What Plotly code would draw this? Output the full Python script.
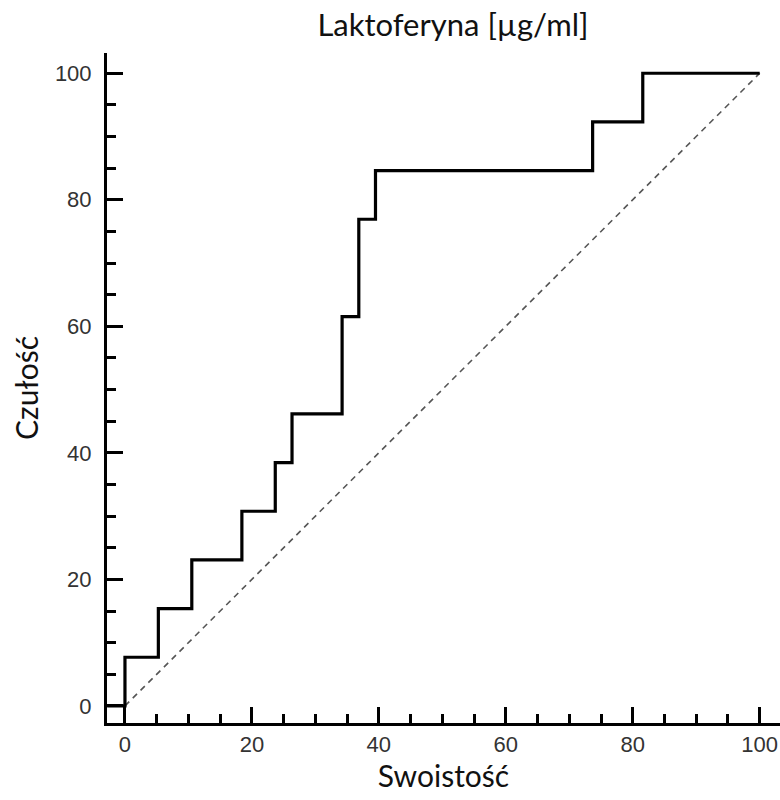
import plotly.graph_objects as go

# ROC curve data (100 - specificity, sensitivity), step-wise
fpr = [-2.8, 0, 5.26, 10.53, 18.42, 23.68, 26.32, 34.21, 36.84, 39.47, 73.68, 81.58, 100]
sens = [0, 7.69, 15.38, 23.08, 30.77, 38.46, 46.15, 61.54, 76.92, 84.62, 92.31, 100, 100]
diag_x = [0, 100]
diag_y = [0, 100]
tick_vals = [0, 20, 40, 60, 80, 100]

fig = go.Figure()
fig.add_trace(go.Scatter(x=diag_x, y=diag_y, mode="lines",
                         line=dict(color="#555555", width=1.6, dash="6px,5px"),
                         hoverinfo="skip", showlegend=False))
fig.add_trace(go.Scatter(x=fpr, y=sens, mode="lines", line_shape="hv",
                         line=dict(color="#000000", width=3.2), showlegend=False))

tickfont = dict(family="Liberation Sans Narrow, Arial Narrow, Liberation Sans, Arial", size=22, color="#333333")
titlefont = dict(family="Lato, Open Sans, sans-serif", size=30, color="#111111")

common = dict(
    showgrid=False, zeroline=False, showline=True, linecolor="#000000", linewidth=3,
    ticks="inside", ticklen=16, tickwidth=3, tickcolor="#000000",
    tickmode="array", tickvals=tick_vals, tickfont=tickfont, automargin=False,
    minor=dict(ticks="inside", dtick=5, tick0=0, ticklen=9, tickwidth=3, tickcolor="#000000", showgrid=False),
)

fig.update_xaxes(range=[-2.83, 103.2], title=dict(text="Swoistość", font=titlefont, standoff=6),
                 ticklabelstandoff=0, **common)
fig.update_yaxes(range=[-2.7, 103.2], title=dict(text="Czułość", font=titlefont, standoff=8),
                 ticklabelstandoff=8, **common)

fig.update_layout(
    width=780, height=800,
    margin=dict(l=107, r=0, t=53, b=77, autoexpand=False),
    plot_bgcolor="white", paper_bgcolor="white",
    title=dict(text="Laktoferyna [µg/ml]", font=dict(family="Lato, Open Sans, sans-serif", size=31, color="#111111"),
               x=453/780, xref="container", xanchor="center",
               y=1-25/800, yref="container", yanchor="middle", automargin=False),
)

fig.write_html("out.html", config={"displayModeBar": False},
               post_script="document.body.style.margin='0';document.body.style.overflow='hidden';")
